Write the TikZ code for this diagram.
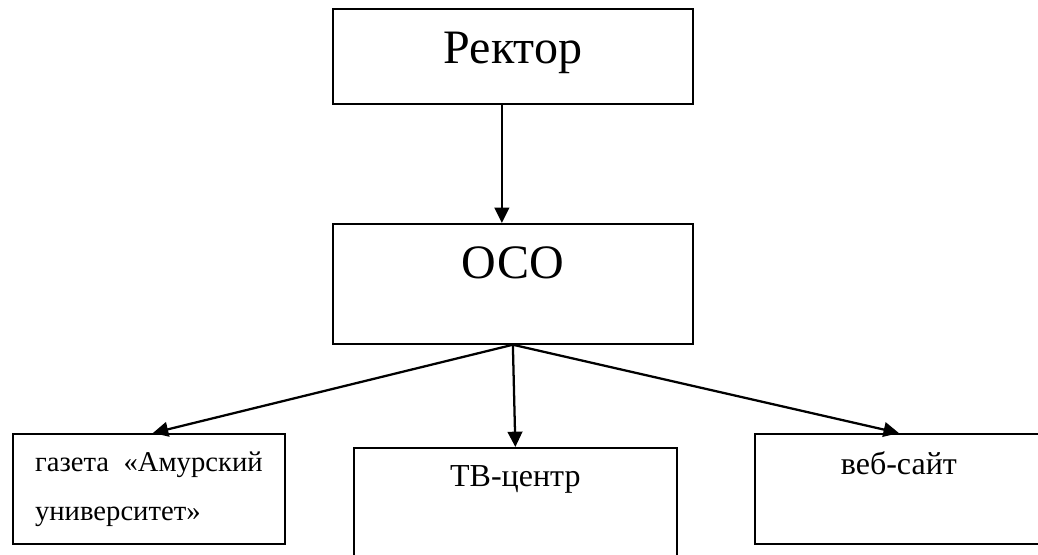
\documentclass[tikz,border=0pt]{standalone}
\usepackage{fontspec}
\setmainfont{Liberation Serif}
\usepackage{tikz}
\usetikzlibrary{arrows.meta}
\tikzstyle{unit} = [rectangle, draw=black, line width=1.3pt, inner sep=0pt, anchor=north west]
\tikzstyle{arrow} = [line width=1.7pt, -{Triangle[length=11.5pt, width=11pt]}]
\newcommand{\bigtxt}{\rmfamily\fontsize{36}{40}\selectfont}
\newcommand{\midtxt}{\rmfamily\fontsize{24}{28}\selectfont}
\newcommand{\smalltxt}{\rmfamily\fontsize{21.5}{36.75}\selectfont}

\begin{document}
\begin{tikzpicture}[x=0.75pt, y=-0.75pt]
\useasboundingbox (0,0) rectangle (1038,554);
\node (rector) [unit, font=\bigtxt, minimum width=270pt, text height=41.25pt, text depth=30pt] at (332,8) {Ректор};
\node (oso) [unit, font=\bigtxt, minimum width=270pt, text height=41.25pt, text depth=48.75pt] at (332,223) {ОСО};
\node (gazeta) [unit, font=\smalltxt, minimum width=204pt, minimum height=82.5pt, align=left] at (12,433) {газета\ \ «Амурский\\университет»};
\node (tv) [unit, font=\midtxt, minimum width=242.25pt, text height=29.25pt, text depth=55.5pt] at (353,447) {ТВ-центр};
\node (site) [unit, font=\midtxt, minimum width=216pt, text height=30.75pt, text depth=51.75pt] at (754,433) {веб-сайт};
\draw[arrow] ([xshift=-8.25pt]rector.south) -- ([xshift=-8.25pt]oso.north);
\draw[arrow] (oso.south) -- ([xshift=3pt]gazeta.north);
\draw[arrow] (oso.south) -- (tv.north);
\draw[arrow] (oso.south) -- (site.north);
\end{tikzpicture}
\end{document}
